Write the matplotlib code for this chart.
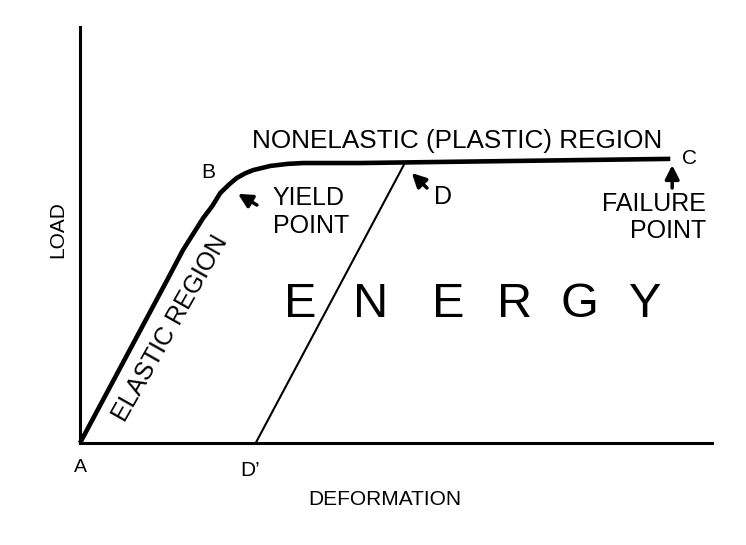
import matplotlib as mpl
import matplotlib.pyplot as plt

mpl.rcParams.update({
    "font.family": ["Liberation Sans", "DejaVu Sans"],
    "figure.dpi": 100, "savefig.dpi": 100,
})

# load-deformation curve (arbitrary units, axes 0..100)
deformation = [0, 13.8, 16.3, 19.5, 20.9, 22.2, 23.7, 24.8, 26.1, 27.4, 30.1, 32.9, 35.3, 44.3, 93.4]
load = [0, 39.2, 46.4, 54.1, 56.9, 60.1, 62.3, 63.7, 64.8, 65.6, 66.6, 67.1, 67.3, 67.3, 68.3]

# unloading line D -> D'
unload_x = [27.8, 51.4]
unload_y = [0, 67.3]

energy_letters = ["E", "N", "E", "R", "G", "Y"]
energy_x = [34.8, 46.0, 58.2, 68.8, 79.1, 89.4]

fig = plt.figure(figsize=(7.46, 5.45))
ax = fig.add_axes([80 / 746, 102 / 545, 632 / 746, 416 / 545])
ax.set_xlim(0, 100)
ax.set_ylim(0, 100)
for s in ("top", "right"):
    ax.spines[s].set_visible(False)
for s in ("left", "bottom"):
    ax.spines[s].set_linewidth(2.2)
ax.set_xticks([])
ax.set_yticks([])

ax.plot(deformation, load, color="k", lw=3.3, solid_capstyle="butt",
        solid_joinstyle="round", clip_on=False)
ax.plot(unload_x, unload_y, color="k", lw=1.5, clip_on=False)

fs = 18
ax.text(59.7, 72.6, "NONELASTIC (PLASTIC) REGION", fontsize=18.8, ha="center", va="center")
ax.text(20.3, 65.1, "B", fontsize=15, ha="center", va="center")
ax.text(30.5, 55.5, "YIELD\nPOINT", fontsize=fs, ha="left", va="center", linespacing=1.25)
ax.text(57.4, 59.1, "D", fontsize=fs, ha="center", va="center")
ax.text(96.5, 68.5, "C", fontsize=15, ha="center", va="center")
ax.text(99.1, 54.3, "FAILURE\nPOINT", fontsize=fs, ha="right", va="center",
        multialignment="right", linespacing=1.15)
ax.text(14.3, 27.6, "ELASTIC REGION", fontsize=18, ha="center", va="center",
        rotation=60.5, rotation_mode="anchor")
for letter, x in zip(energy_letters, energy_x):
    ax.text(x, 33.2, letter, fontsize=35, ha="center", va="center")

arrow = dict(arrowstyle="-|>,head_length=0.55,head_width=0.28", color="k", lw=2.5,
             mutation_scale=15, shrinkA=0, shrinkB=0)
ax.annotate("", xy=(25.0, 59.9), xytext=(28.0, 57.2), arrowprops=arrow)
ax.annotate("", xy=(52.5, 64.9), xytext=(54.9, 61.3), arrowprops=arrow)
ax.annotate("", xy=(93.7, 66.8), xytext=(93.7, 61.3), arrowprops=arrow)

ax.text(0, -5.8, "A", fontsize=14, ha="center", va="center", clip_on=False)
ax.text(26.9, -6.5, "D\u2019", fontsize=15, ha="center", va="center", clip_on=False)
ax.text(48.3, -13.7, "DEFORMATION", fontsize=15, ha="center", va="center", clip_on=False)
ax.text(-3.5, 51.2, "LOAD", fontsize=15, ha="center", va="center", rotation=90, clip_on=False)

fig.savefig("out.png")
